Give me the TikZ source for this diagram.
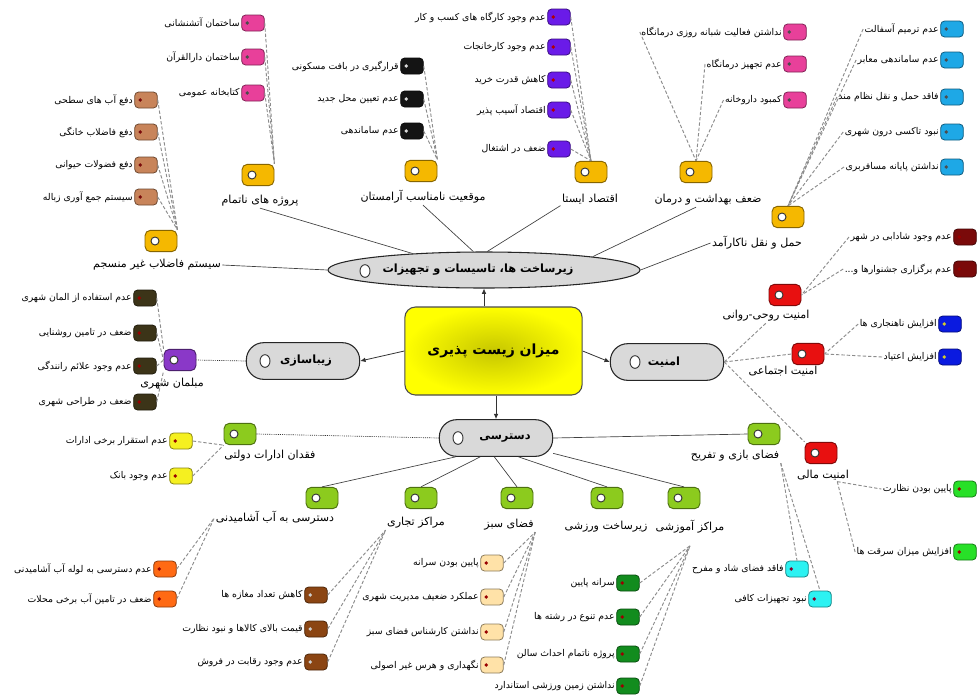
\documentclass[tikz,border=0pt]{standalone}
\usepackage{fontspec}
\newfontfamily\arabicfont[Script=Arabic]{DejaVu Sans}
\TeXXeTstate=1
\usetikzlibrary{shapes.geometric,arrows.meta}
\newcommand\fatext[1]{{\arabicfont #1}}
\definecolor{cgold}{HTML}{F5B800}
\definecolor{cpink}{HTML}{E8409A}
\definecolor{cblack}{HTML}{141414}
\definecolor{cviolet}{HTML}{6A1BE8}
\definecolor{csewer}{HTML}{C8845A}
\definecolor{csky}{HTML}{1EA8E6}
\definecolor{cdred}{HTML}{7A0A0A}
\definecolor{cblue}{HTML}{0A1AE0}
\definecolor{clgreen}{HTML}{28E028}
\definecolor{cred}{HTML}{E81010}
\definecolor{cpurple}{HTML}{8A38C8}
\definecolor{colive}{HTML}{3C3418}
\definecolor{cgreen}{HTML}{8CCB1E}
\definecolor{cyellow}{HTML}{F5F020}
\definecolor{corange}{HTML}{FF6A14}
\definecolor{cbrown}{HTML}{8B4513}
\definecolor{cpeach}{HTML}{FFE2A8}
\definecolor{cdgreen}{HTML}{128C1E}
\definecolor{ccyan}{HTML}{2CF2F2}
\definecolor{cgray}{HTML}{D9D9D9}
\tikzset{
  leafbox/.style={rectangle, rounded corners=3pt, minimum width=17pt, minimum height=12pt, inner sep=0pt, line width=0.6pt},
  leaftext/.style={font=\fontsize{7}{8.5}\selectfont, inner sep=1pt},
  subbox/.style={rectangle, rounded corners=4pt, minimum width=24pt, minimum height=16pt, inner sep=0pt, line width=0.7pt},
  sublabel/.style={font=\fontsize{8.3}{10}\selectfont, inner sep=1pt},
  mainfill/.style={fill=cgray, draw=black!85, line width=0.8pt},
  mainbox/.style={mainfill, rectangle, rounded corners=13pt, minimum width=85pt, minimum height=27.5pt, inner sep=0pt},
  maintext/.style={font=\fontsize{8.5}{10}\selectfont\bfseries, inner sep=0pt},
  hole/.style={ellipse, draw=black!80, fill=white, line width=0.7pt, minimum width=6pt, minimum height=6pt, inner sep=0pt},
  link/.style={draw=black!75, line width=0.5pt},
  dlink/.style={draw=black!45, line width=0.7pt, dash pattern=on 2.5pt off 1.5pt},
  dotlink/.style={draw=black!80, line width=0.5pt, dash pattern=on 0.8pt off 0.8pt},
  arr/.style={draw=black!80, line width=0.6pt, -{Latex[length=4pt,width=3.5pt]}},
}
\newcommand\leaf[5][black!60]{%
  \node[leafbox, fill=#4, draw=#4!55!black] (#2) at (#3) {};
  \fill[#1] ([xshift=4.5pt]#2.west) circle (1.4pt);
  \node[leaftext, anchor=east] (#2t) at (#2.west) {\fatext{#5}};
}
\newcommand\subnode[5]{%
  \node[subbox, fill=#3, draw=#3!55!black] (#1) at (#2) {};
  \node[hole] (#1h) at ([xshift=-4.5pt]#1.center) {};
  \node[sublabel] (#1l) at (#5) {\fatext{#4}};
}
\begin{document}
\begin{tikzpicture}[x=0.75pt,y=-0.75pt]
\useasboundingbox[fill=white] (0,0) rectangle (977,697);

% ---------- central and main nodes ----------
\node[rectangle, rounded corners=8pt, minimum width=133pt, minimum height=66pt,
      draw=black!70, line width=0.8pt, inner color=yellow!78!black, outer color=yellow,
      font=\fontsize{10.5}{13}\selectfont\bfseries] (C) at (493.5,351) {\fatext{\beginR میزان زیست پذیری\endR}};

\node[ellipse, mainfill, minimum width=234pt, minimum height=27pt, inner sep=0pt] (E) at (484,270) {};
\node[maintext] (Et) at (478,270) {\fatext{\beginR زیرساخت ها، تاسیسات و تجهیزات\endR}};
\node[hole, minimum width=7.5pt, minimum height=9.5pt] (Eh) at (365,271) {};

\node[mainbox] (Z) at (303,361) {};
\node[maintext] (Zt) at (306,361) {\fatext{\beginR زیباسازی\endR}};
\node[hole, minimum width=7.5pt, minimum height=9.5pt] (Zh) at (265,361) {};

\node[mainbox] (A) at (667,362) {};
\node[maintext] (At) at (664,362) {\fatext{\beginR امنیت\endR}};
\node[hole, minimum width=7.5pt, minimum height=9.5pt] (Ah) at (635,362) {};

\node[mainbox] (D) at (496,438) {};
\node[maintext] (Dt) at (505,438) {\fatext{\beginR دسترسی\endR}};
\node[hole, minimum width=7.5pt, minimum height=9.5pt] (Dh) at (458,438) {};

\draw[arr] (C.north -| E.south) -- (E.south);
\draw[arr] (C.west) -- (Z.east);
\draw[arr] (C.east) -- (A.west);
\draw[arr] (C.south -| D.north) -- (D.north);

% ---------- sub nodes ----------
\subnode{P1}{161,241}{cgold}{\beginR سیستم فاضلاب غیر منسجم\endR}{157,265}
\subnode{P2}{258,175}{cgold}{\beginR پروژه های ناتمام\endR}{260,201}
\subnode{P3}{421,171}{cgold}{\beginR موقعیت نامناسب آرامستان\endR}{423,197}
\subnode{P4}{591,172}{cgold}{\beginR اقتصاد ایستا\endR}{590,199}
\subnode{P5}{696,172}{cgold}{\beginR ضعف بهداشت و درمان\endR}{708,200}
\subnode{P6}{788,217}{cgold}{\beginR حمل و نقل ناکارآمد\endR}{757,243}

\subnode{R1}{785,295}{cred}{\beginR امنیت روحی-روانی\endR}{766,316}
\subnode{R2}{808,354}{cred}{\beginR امنیت اجتماعی\endR}{783,371}
\subnode{R3}{821,453}{cred}{\beginR امنیت مالی\endR}{823,475}

\subnode{M1}{180,360}{cpurple}{\beginR مبلمان شهری\endR}{172,384}

\subnode{D1}{240,434}{cgreen}{\beginR فقدان ادارات دولتی\endR}{270,456}
\subnode{D2}{322,498}{cgreen}{\beginR دسترسی به آب آشامیدنی\endR}{275,518}
\subnode{D3}{421,498}{cgreen}{\beginR مراکز تجاری\endR}{416,523}
\subnode{D4}{517,498}{cgreen}{\beginR فضای سبز\endR}{509,525}
\subnode{D5}{607,498}{cgreen}{\beginR زیرساخت ورزشی\endR}{606,527}
\subnode{D6}{684,498}{cgreen}{\beginR مراکز آموزشی\endR}{690,527}
\subnode{D7}{764,434}{cgreen}{\beginR فضای بازی و تفریح\endR}{735,456}

% main -> sub links
\draw[link] (E.west) -- (P1l.east);
\draw[link] (E.167) -- (P2l.south);
\draw[link] (E.120) -- (P3l.south);
\draw[link] (E.80) -- (P4l.south west);
\draw[link] (E.7) -- (P5l.south -| P5.south);
\draw[link] (E.east) -- (P6l.west);

\draw[dlink] (A.east) -- (R1l.south);
\draw[dlink] (A.east) -- (R2.west);
\draw[dlink] (A.east) -- (R3.north west);

\draw[dotlink] (Z.west) -- (M1.east);

\draw[dotlink] (D.west) -- (D1.east);
\draw[link] (D.205) -- (D2.north);
\draw[link] (D.230) -- (D3.north);
\draw[link] (D.265) -- (D4.north);
\draw[link] (D.320) -- (D5.north);
\draw[link] (D.345) -- (D6.north);
\draw[link] (D.east) -- (D7.west);

% ---------- leaves ----------
\leaf[cdred]{S1}{146,100}{csewer}{\beginR دفع آب های سطحی\endR}
\leaf[cdred]{S2}{146,132}{csewer}{\beginR دفع فاضلاب خانگی\endR}
\leaf[cdred]{S3}{146,165}{csewer}{\beginR دفع فضولات حیوانی\endR}
\leaf[cdred]{S4}{146,197}{csewer}{\beginR سیستم جمع آوری زباله\endR}
\foreach \n in {S1,S2,S3,S4} \draw[dlink] (\n.east) -- (P1.north east);

\leaf[black!70]{G1}{253,23}{cpink}{\beginR ساختمان آتشنشانی\endR}
\leaf[black!70]{G2}{253,57}{cpink}{\beginR ساختمان دارالقرآن\endR}
\leaf[black!70]{G3}{253,93}{cpink}{\beginR کتابخانه عمومی\endR}
\foreach \n in {G1,G2,G3} \draw[dlink] (\n.east) -- (P2.north east);

\leaf[white!85!black]{K1}{412,66}{cblack}{\beginR قرارگیری در بافت مسکونی\endR}
\leaf[white!85!black]{K2}{412,99}{cblack}{\beginR عدم تعیین محل جدید\endR}
\leaf[white!85!black]{K3}{412,131}{cblack}{\beginR عدم ساماندهی\endR}
\foreach \n in {K1,K2,K3} \draw[dlink] (\n.east) -- (P3.north east);

\leaf[red!70!black]{U1}{559,17}{cviolet}{\beginR عدم وجود کارگاه های کسب و کار\endR}
\leaf[red!70!black]{U2}{559,47}{cviolet}{\beginR عدم وجود کارخانجات\endR}
\leaf[red!70!black]{U3}{559,80}{cviolet}{\beginR کاهش قدرت خرید\endR}
\leaf[red!70!black]{U4}{559,110}{cviolet}{\beginR اقتصاد آسیب پذیر\endR}
\leaf[red!70!black]{U5}{559,149}{cviolet}{\beginR ضعف در اشتغال\endR}
\foreach \n in {U1,U2,U3,U4,U5} \draw[dlink] (\n.east) -- (P4.north);

\leaf[black!70]{H1}{795,32}{cpink}{\beginR نداشتن فعالیت شبانه روزی درمانگاه\endR}
\leaf[black!70]{H2}{795,64}{cpink}{\beginR عدم تجهیز درمانگاه\endR}
\leaf[black!70]{H3}{795,100}{cpink}{\beginR کمبود داروخانه\endR}
\foreach \n in {H1,H2,H3} \draw[dlink] (\n t.west) -- (P5.north);

\leaf[black!70]{T1}{952,29}{csky}{\beginR عدم ترمیم آسفالت\endR}
\leaf[black!70]{T2}{952,60}{csky}{\beginR عدم ساماندهی معابر\endR}
\leaf[black!70]{T3}{952,97}{csky}{\beginR فاقد حمل و نقل نظام مند\endR}
\leaf[black!70]{T4}{952,132}{csky}{\beginR نبود تاکسی درون شهری\endR}
\leaf[black!70]{T5}{952,167}{csky}{\beginR نداشتن پایانه مسافربری\endR}
\foreach \n in {T1,T2,T3,T4,T5} \draw[dlink] (\n t.west) -- (P6.north);

\leaf[red!60!black]{Q1}{965,237}{cdred}{\beginR عدم وجود شادابی در شهر\endR}
\leaf[red!60!black]{Q2}{965,269}{cdred}{\beginR عدم برگزاری جشنوارها و...\endR}
\foreach \n in {Q1,Q2} \draw[dlink] (\n t.west) -- (R1.east);

\leaf[yellow!80!black]{W1}{950,324}{cblue}{\beginR افزایش ناهنجاری ها\endR}
\leaf[yellow!80!black]{W2}{950,357}{cblue}{\beginR افزایش اعتیاد\endR}
\foreach \n in {W1,W2} \draw[dlink] (\n t.west) -- (R2.east);

\leaf[red!60!black]{V1}{965,489}{clgreen}{\beginR پایین بودن نظارت\endR}
\leaf[red!60!black]{V2}{965,552}{clgreen}{\beginR افزایش میزان سرقت ها\endR}
\foreach \n in {V1,V2} \draw[dlink] ([xshift=-10pt]R3l.south east) -- (\n t.west);

\leaf[red!60!black]{B1}{145,298}{colive}{\beginR عدم استفاده از المان شهری\endR}
\leaf[red!60!black]{B2}{145,333}{colive}{\beginR ضعف در تامین روشنایی\endR}
\leaf[red!60!black]{B3}{145,366}{colive}{\beginR عدم وجود علائم رانندگی\endR}
\leaf[red!60!black]{B4}{145,402}{colive}{\beginR ضعف در طراحی شهری\endR}
\draw[dlink] (B1.east) -- (M1.north west);
\draw[dlink] (B2.east) -- (M1.west);
\draw[dlink] (B3.east) -- (M1.west);
\draw[dlink] (B4.east) -- (M1.south west);

\leaf[red!60!black]{Y1}{181,441}{cyellow}{\beginR عدم استقرار برخی ادارات\endR}
\leaf[red!60!black]{Y2}{181,476}{cyellow}{\beginR عدم وجود بانک\endR}
\foreach \n in {Y1,Y2} \draw[dlink] (\n.east) -- (D1.south west);

\leaf[red!60!black]{O1}{165,569}{corange}{\beginR عدم دسترسی به لوله آب آشامیدنی\endR}
\leaf[red!60!black]{O2}{165,599}{corange}{\beginR ضعف در تامین آب برخی محلات\endR}
\foreach \n in {O1,O2} \draw[dlink] (\n.east) -- (D2l.west);

\leaf[white!80!black]{N1}{316,595}{cbrown}{\beginR کاهش تعداد مغازه ها\endR}
\leaf[white!80!black]{N2}{316,629}{cbrown}{\beginR قیمت بالای کالاها و نبود نظارت\endR}
\leaf[white!80!black]{N3}{316,662}{cbrown}{\beginR عدم وجود رقابت در فروش\endR}
\foreach \n in {N1,N2,N3} \draw[dlink] (\n.east) -- (D3l.south west);

\leaf[red!60!black]{F1}{492,563}{cpeach}{\beginR پایین بودن سرانه\endR}
\leaf[red!60!black]{F2}{492,597}{cpeach}{\beginR عملکرد ضعیف مدیریت شهری\endR}
\leaf[red!60!black]{F3}{492,632}{cpeach}{\beginR نداشتن کارشناس فضای سبز\endR}
\leaf[red!60!black]{F4}{492,665}{cpeach}{\beginR نگهداری و هرس غیر اصولی\endR}
\foreach \n in {F1,F2,F3,F4} \draw[dlink] (\n.east) -- (D4l.south east);

\leaf[red!60!black]{J1}{628,583}{cdgreen}{\beginR سرانه پایین\endR}
\leaf[red!60!black]{J2}{628,617}{cdgreen}{\beginR عدم تنوع در رشته ها\endR}
\leaf[red!60!black]{J3}{628,654}{cdgreen}{\beginR پروژه ناتمام احداث سالن\endR}
\leaf[red!60!black]{J4}{628,686}{cdgreen}{\beginR نداشتن زمین ورزشی استاندارد\endR}
\foreach \n in {J1,J2,J3,J4} \draw[dlink] (\n.east) -- ([yshift=-8pt]D6l.south);

\leaf[purple!70!black]{X1}{797,569}{ccyan}{\beginR فاقد فضای شاد و مفرح\endR}
\leaf[purple!70!black]{X2}{820,599}{ccyan}{\beginR نبود تجهیزات کافی\endR}
\foreach \n in {X1,X2} \draw[dlink] (D7l.south east) -- (\n.north);
\end{tikzpicture}
\end{document}
